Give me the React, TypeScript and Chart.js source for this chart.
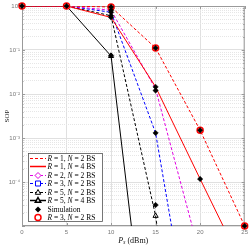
import { useEffect, useRef } from 'react';
import { Chart, registerables } from 'chart.js';
Chart.register(...registerables);

// ---- data ----
const pdBm = [0, 5, 10, 15, 20, 25];
const sopR1N2 = [1, 1, 0.95, 0.111, 1.5e-3, 1e-5];
const sopR1N4 = [1, 1, 0.55, 0.0145, 1.17e-4, 1.0e-6];
const sopR2N2 = [1, 1, 0.8, 0.013, 2.1e-6];
const sopR3N2 = [1, 1, 0.72, 1.3e-3, 1.6e-9];
const sopR5N2 = [1, 1, 0.6, 1.7e-5, 1e-12];
const sopR5N4 = [1, 1, 0.073, 2.5e-10];
const simP = [0, 5, 10, 10, 10, 10, 10, 10, 15, 15, 15, 15, 15, 20, 20, 25];
const simSOP = [1, 1, 0.95, 0.8, 0.72, 0.6, 0.55, 0.075, 0.111, 0.0145, 0.012, 1.3e-3, 3e-5, 1.5e-3, 1.17e-4, 1e-5];
const rsP = [0, 5, 10, 15, 20, 25];
const rsSOP = [1, 1, 0.95, 0.111, 1.5e-3, 1e-5];
const xTicks = [0, 5, 10, 15, 20, 25];
const yExponents = [-5, -4, -3, -2, -1, 0];
const seriesLabels = [
  'R = 1, N = 2 BS',
  'R = 1, N = 4 BS',
  'R = 2, N = 2 BS',
  'R = 3, N = 2 BS',
  'R = 5, N = 2 BS',
  'R = 5, N = 4 BS',
  'Simulation',
  'R = 3, N = 2 RS',
];

const SUP: Record<string, string> = { '0': '⁰', '1': '¹', '2': '²', '3': '³', '4': '⁴', '5': '⁵', '-': '⁻' };
const sup = (s: string) => s.split('').map((c) => SUP[c] || c).join('');
const isMajor = (v: number) => Math.abs(Math.log10(v) - Math.round(Math.log10(v))) < 1e-9;
const pts = (xs: number[], ys: number[]) => ys.map((y, i) => ({ x: xs[i], y }));

type LegendStyle = {
  color: string;
  dash: number[] | null;
  lineWidth: number;
  marker: string | null;
  fill: boolean;
  r: number;
};
const legendStyles: LegendStyle[] = [
  { color: '#ff0000', dash: [3, 2], lineWidth: 1, marker: null, fill: false, r: 0 },
  { color: '#ff0000', dash: [], lineWidth: 1.5, marker: null, fill: false, r: 0 },
  { color: '#e000e0', dash: [3, 2], lineWidth: 1, marker: 'diamond', fill: false, r: 3 },
  { color: '#0000ff', dash: [3, 2], lineWidth: 1, marker: 'square', fill: false, r: 2.5 },
  { color: '#000000', dash: [3, 2], lineWidth: 1, marker: 'triangle', fill: false, r: 3 },
  { color: '#000000', dash: [], lineWidth: 1.5, marker: 'triangle', fill: false, r: 3 },
  { color: '#000000', dash: null, lineWidth: 1, marker: 'diamond', fill: true, r: 3 },
  { color: '#ff0000', dash: null, lineWidth: 1.5, marker: 'circle', fill: false, r: 3 },
];

function drawMarker(ctx: CanvasRenderingContext2D, kind: string, cx: number, cy: number, r: number, color: string, fill: boolean, lw: number) {
  ctx.save();
  ctx.setLineDash([]);
  ctx.strokeStyle = color;
  ctx.fillStyle = color;
  ctx.lineWidth = Math.min(lw, 1.5);
  ctx.beginPath();
  if (kind === 'circle') ctx.arc(cx, cy, r, 0, Math.PI * 2);
  else if (kind === 'diamond') {
    ctx.moveTo(cx, cy - r); ctx.lineTo(cx + r, cy); ctx.lineTo(cx, cy + r); ctx.lineTo(cx - r, cy); ctx.closePath();
  } else if (kind === 'square') ctx.rect(cx - r, cy - r, 2 * r, 2 * r);
  else if (kind === 'triangle') {
    ctx.moveTo(cx, cy - r); ctx.lineTo(cx + r * 0.9, cy + r * 0.6); ctx.lineTo(cx - r * 0.9, cy + r * 0.6); ctx.closePath();
  }
  if (fill) ctx.fill();
  else {
    ctx.fillStyle = '#fff';
    ctx.fill();
    ctx.stroke();
  }
  ctx.restore();
}

function drawRich(ctx: CanvasRenderingContext2D, text: string, x: number, y: number, size: number) {
  const parts = text.split(/\b([RN])\b/);
  let cx = x;
  parts.forEach((p, i) => {
    if (!p) return;
    const italic = i % 2 === 1;
    ctx.font = `${italic ? 'italic ' : ''}${size}px "Liberation Serif"`;
    ctx.fillText(p, cx, y);
    cx += ctx.measureText(p).width;
  });
}

const framePlugin = {
  id: 'frame',
  beforeDatasetsDraw(chart: any) {
    const { ctx, chartArea: a } = chart;
    ctx.save();
    ctx.strokeStyle = '#9a9a9a';
    ctx.lineWidth = 1;
    ctx.strokeRect(a.left + 0.5, a.top + 0.5, a.right - a.left - 1, a.bottom - a.top - 1);
    // inner tick marks
    const ys = chart.scales.y;
    ys.ticks.forEach((t: any) => {
      const py = Math.round(ys.getPixelForValue(t.value)) + 0.5;
      const len = isMajor(t.value) ? 3 : 1.5;
      ctx.beginPath();
      ctx.moveTo(a.left, py); ctx.lineTo(a.left + len, py);
      ctx.moveTo(a.right, py); ctx.lineTo(a.right - len, py);
      ctx.stroke();
    });
    const xs = chart.scales.x;
    xs.ticks.forEach((t: any) => {
      const px = Math.round(xs.getPixelForValue(t.value)) + 0.5;
      ctx.beginPath();
      ctx.moveTo(px, a.bottom); ctx.lineTo(px, a.bottom - 3);
      ctx.moveTo(px, a.top); ctx.lineTo(px, a.top + 3);
      ctx.stroke();
    });
    ctx.restore();
  },
  afterDraw(chart: any) {
    const { ctx, chartArea: a } = chart;
    ctx.save();
    // legend box
    const bx = 28.5, by = 153.5, bw = 74, bh = 68;
    ctx.fillStyle = '#ffffff';
    ctx.fillRect(bx, by, bw, bh);
    ctx.strokeStyle = '#555555';
    ctx.lineWidth = 0.8;
    ctx.strokeRect(bx, by, bw, bh);
    ctx.textBaseline = 'middle';
    seriesLabels.forEach((label, i) => {
      const st = legendStyles[i];
      const cy = Math.round(157.5 + i * 8.55) + 0.5;
      if (st.dash) {
        ctx.save();
        ctx.strokeStyle = st.color;
        ctx.lineWidth = st.lineWidth;
        ctx.setLineDash(st.dash);
        ctx.beginPath();
        ctx.moveTo(30, cy); ctx.lineTo(46, cy);
        ctx.stroke();
        ctx.restore();
      }
      if (st.marker) drawMarker(ctx, st.marker, 38, cy, st.r, st.color, st.fill, st.lineWidth);
      ctx.fillStyle = '#000';
      drawRich(ctx, label, 47.5, cy + 0.5, 7.5);
    });
    // x-axis title: P_s (dBm)
    const cx = (a.left + a.right) / 2;
    ctx.fillStyle = '#111';
    ctx.font = 'italic 8px "Liberation Serif"';
    const wP = ctx.measureText('P').width;
    ctx.font = 'italic 5.5px "Liberation Serif"';
    const wS = ctx.measureText('s').width;
    ctx.font = '8px "Liberation Serif"';
    const wR = ctx.measureText(' (dBm)').width;
    let x0 = cx - (wP + wS + wR) / 2;
    const ty = 240.5;
    ctx.font = 'italic 8px "Liberation Serif"';
    ctx.fillText('P', x0, ty); x0 += wP;
    ctx.font = 'italic 5.5px "Liberation Serif"';
    ctx.fillText('s', x0, ty + 2); x0 += wS;
    ctx.font = '8px "Liberation Serif"';
    ctx.fillText(' (dBm)', x0, ty);
    ctx.restore();
  },
};

export default function App() {
  const ref = useRef<HTMLCanvasElement | null>(null);
  useEffect(() => {
    if (!ref.current) return;
    const dash = [3, 2];
    const chart = new Chart(ref.current, {
      type: 'line',
      data: {
        datasets: [
          {
            label: seriesLabels[6], data: pts(simP, simSOP) as any, showLine: false, order: 0,
            pointStyle: 'rectRot', pointRadius: 2.7, backgroundColor: '#000', borderColor: '#000', borderWidth: 0.5, clip: false as any,
          },
          {
            label: seriesLabels[7], data: pts(rsP, rsSOP) as any, showLine: false, order: 1,
            pointStyle: 'circle', pointRadius: 3, backgroundColor: 'rgba(0,0,0,0)', borderColor: '#ff0000', borderWidth: 1.5, clip: false as any,
          },
          {
            label: seriesLabels[0], data: pts(pdBm, sopR1N2) as any, order: 2,
            borderColor: '#ff0000', borderDash: dash, borderWidth: 1, pointRadius: 0,
          },
          {
            label: seriesLabels[1], data: pts(pdBm, sopR1N4) as any, order: 3,
            borderColor: '#ff0000', borderWidth: 1, pointRadius: 0,
          },
          {
            label: seriesLabels[2], data: pts(pdBm, sopR2N2) as any, order: 4,
            borderColor: '#e000e0', borderDash: dash, borderWidth: 1, pointRadius: 0,
          },
          {
            label: seriesLabels[3], data: pts(pdBm, sopR3N2) as any, order: 5,
            borderColor: '#0000ff', borderDash: dash, borderWidth: 1, pointRadius: 0,
          },
          {
            label: seriesLabels[4], data: pts(pdBm, sopR5N2) as any, order: 6,
            borderColor: '#000000', borderDash: dash, borderWidth: 1,
            pointStyle: 'triangle', pointRadius: [0, 0, 0, 3, 0], backgroundColor: 'rgba(0,0,0,0)', pointBorderColor: '#000', pointBorderWidth: 1,
          },
          {
            label: seriesLabels[5], data: pts(pdBm, sopR5N4) as any, order: 7,
            borderColor: '#000000', borderWidth: 1,
            pointStyle: 'triangle', pointRadius: [0, 0, 3, 0], backgroundColor: 'rgba(0,0,0,0)', pointBorderColor: '#000', pointBorderWidth: 1,
          },
        ] as any,
      },
      options: {
        animation: false,
        responsive: true,
        maintainAspectRatio: false,
        events: [],
        layout: { padding: { left: 0, top: 6, right: 4, bottom: 0 } },
        plugins: { legend: { display: false }, tooltip: { enabled: false } },
        scales: {
          x: {
            type: 'linear', min: 0, max: 25,
            afterBuildTicks: (s: any) => { s.ticks = xTicks.map((v) => ({ value: v })); },
            afterFit: (s: any) => { s.height = 19; },
            ticks: { padding: 3, color: '#777', font: { family: 'Liberation Sans', size: 6 } },
            grid: { drawTicks: false, color: '#e0e0e0', lineWidth: 1 },
            border: { display: false },
          },
          y: {
            type: 'logarithmic', min: 1e-5, max: 1,
            afterBuildTicks: (s: any) => {
              const t: any[] = [];
              yExponents.forEach((e) => {
                for (let m = 1; m <= 9; m++) {
                  const v = m * Math.pow(10, e);
                  if (v <= 1.0000001) t.push({ value: v });
                }
              });
              s.ticks = t;
            },
            afterFit: (s: any) => { s.width = 22; },
            ticks: {
              autoSkip: false, padding: 2, color: '#777', font: { family: 'Liberation Sans', size: 6 },
              callback: (v: any) => {
                const n = Number(v);
                if (!isMajor(n)) return '';
                const e = Math.round(Math.log10(n));
                if (e === -5) return '';
                return '10' + sup(String(e));
              },
            },
            grid: {
              drawTicks: false,
              color: (c: any) => (c.tick && isMajor(c.tick.value) ? '#e0e0e0' : '#e6e6e6'),
              lineWidth: 1,
            },
            border: { display: false, dash: (c: any) => (c.tick && !isMajor(c.tick.value) ? [1, 1] : []) } as any,
            title: { display: true, text: 'SOP', color: '#222', font: { family: 'Liberation Serif', size: 7 }, padding: { top: 3, bottom: 0 } },
          },
        },
      } as any,
      plugins: [framePlugin],
    });
    return () => chart.destroy();
  }, []);
  return (
    <div style={{ position: 'fixed', left: 0, top: 0, width: 251, height: 245 }}>
      <canvas ref={ref} />
    </div>
  );
}
